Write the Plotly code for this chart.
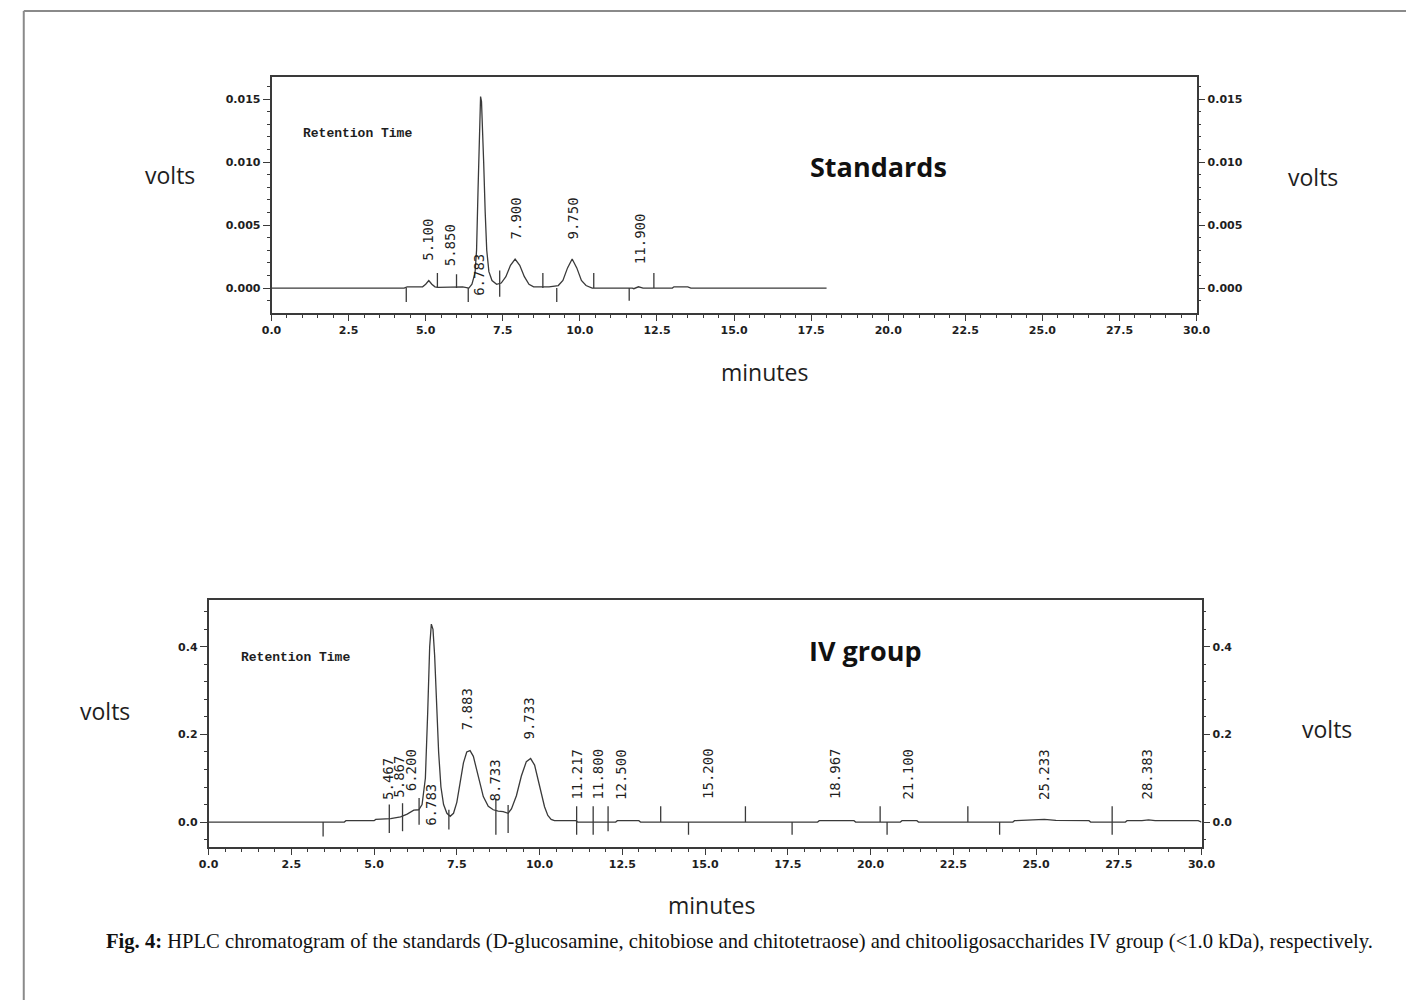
import plotly.graph_objects as go

# ---------------- data: Standards chromatogram ----------------
std_time = [0.0, 4.3, 4.4, 4.9, 5.0, 5.1, 5.2, 5.3, 5.4, 6.0, 6.2, 6.4, 6.5, 6.6, 6.65, 6.7, 6.75,
            6.78, 6.81, 6.83, 6.88, 6.93, 6.98, 7.05, 7.15, 7.3, 7.45, 7.6, 7.75, 7.9, 8.05, 8.2,
            8.35, 8.5, 9.0, 9.3, 9.45, 9.6, 9.75, 9.9, 10.05, 10.2, 10.4, 11.7, 11.75, 11.9, 12.05,
            13.0, 13.05, 13.5, 13.6, 18.0]
std_volts = [0.0, 0.0, 0.0001, 0.0001, 0.0003, 0.0006, 0.0003, 0.0001, 0.00005, 0.0001, 0.0001, 0.0,
             0.0003, 0.0012, 0.003, 0.008, 0.0135, 0.0152, 0.0148, 0.0136, 0.010, 0.006, 0.003,
             0.0013, 0.0006, 0.0003, 0.0004, 0.0009, 0.0018, 0.0023, 0.0018, 0.0009, 0.0003, 0.0001,
             0.0001, 0.0002, 0.0006, 0.0016, 0.0023, 0.0016, 0.0006, 0.0002, 0.0, 0.0, -0.00005,
             0.0001, 0.0, 0.0, 0.0001, 0.0001, 0.0, 0.0]
std_mark_time = [4.37, 5.38, 6.0, 6.38, 7.4, 8.8, 9.25, 10.45, 11.6, 12.4]
std_mark_low = [-0.0011, 0.0, 0.0, -0.0011, -0.0007, 0.0, -0.0011, 0.0, -0.001, 0.0]
std_mark_high = [0.0, 0.0012, 0.0011, 0.0, 0.0014, 0.0012, 0.0, 0.0012, 0.0, 0.0012]
std_labels = ["5.100", "5.850", "6.783", "7.900", "9.750", "11.900"]
std_label_time = [5.07, 5.80, 6.72, 7.93, 9.78, 11.95]
std_label_base = [0.002, 0.0016, -0.0008, 0.0037, 0.0037, 0.0017]

# ---------------- data: IV group chromatogram ----------------
iv_time = [0.0, 4.1, 4.15, 5.0, 5.05, 5.5, 5.8, 6.0, 6.2, 6.35, 6.45, 6.55, 6.62, 6.68, 6.73, 6.78,
           6.83, 6.88, 6.95, 7.02, 7.1, 7.2, 7.3, 7.4, 7.5, 7.6, 7.7, 7.8, 7.9, 8.0, 8.1, 8.2, 8.3,
           8.45, 8.6, 8.75, 8.9, 9.05, 9.15, 9.3, 9.45, 9.6, 9.73, 9.85, 9.95, 10.05, 10.15, 10.25,
           10.35, 10.45, 11.1, 11.15, 12.3, 12.35, 13.0, 13.05, 18.4, 18.45, 19.5, 19.55, 20.9,
           20.95, 21.4, 21.45, 24.3, 24.35, 24.9, 25.25, 25.6, 26.6, 26.65, 27.7, 27.75, 28.2,
           28.4, 28.6, 29.9, 30.0]
iv_volts = [0.0, 0.0, 0.003, 0.003, 0.006, 0.008, 0.012, 0.018, 0.027, 0.028, 0.04, 0.1, 0.25, 0.40,
            0.452, 0.44, 0.38, 0.28, 0.16, 0.08, 0.04, 0.02, 0.013, 0.02, 0.045, 0.09, 0.135, 0.16,
            0.163, 0.15, 0.12, 0.085, 0.058, 0.036, 0.028, 0.025, 0.024, 0.02, 0.03, 0.06, 0.105,
            0.138, 0.145, 0.13, 0.1, 0.065, 0.035, 0.015, 0.006, 0.003, 0.003, 0.0, 0.0, 0.003,
            0.003, 0.0, 0.0, 0.003, 0.003, 0.0, 0.0, 0.003, 0.003, 0.0, 0.0, 0.003, 0.004, 0.006,
            0.004, 0.003, 0.0, 0.0, 0.003, 0.003, 0.005, 0.003, 0.003, 0.0]
iv_mark_time = [3.46, 5.46, 5.86, 6.36, 7.26, 8.68, 9.05, 11.12, 11.62, 12.07, 13.66, 14.5, 16.22,
                17.63, 20.29, 20.5, 22.94, 23.9, 27.3]
iv_mark_low = [-0.033, -0.025, -0.021, -0.006, -0.017, -0.029, -0.025, -0.029, -0.029, -0.021, 0.0,
               -0.029, 0.0, -0.029, 0.0, -0.029, 0.0, -0.029, -0.029]
iv_mark_high = [0.0, 0.04, 0.043, 0.055, 0.028, 0.054, 0.039, 0.036, 0.036, 0.036, 0.036, 0.0,
                0.036, 0.0, 0.036, 0.0, 0.036, 0.0, 0.036]
iv_labels = ["5.467", "5.867", "6.200", "6.783", "7.883", "8.733", "9.733", "11.217", "11.800",
             "12.500", "15.200", "18.967", "21.100", "25.233", "28.383"]
iv_label_time = [5.44, 5.77, 6.12, 6.71, 7.79, 8.66, 9.67, 11.12, 11.75, 12.46, 15.09, 18.93,
                 21.12, 25.24, 28.34]
iv_label_base = [0.045, 0.05, 0.066, -0.014, 0.206, 0.043, 0.183, 0.047, 0.047, 0.047, 0.047,
                 0.047, 0.047, 0.047, 0.047]

x_ticks = [0.0, 2.5, 5.0, 7.5, 10.0, 12.5, 15.0, 17.5, 20.0, 22.5, 25.0, 27.5, 30.0]

# ---------------- figure ----------------
W, H = 1420, 1000
LINE = "#3a3a3a"
TXT = "#1e1e1e"


def px(x):
    return x / W


def py(y):
    return 1 - y / H


def marks(times, lows, highs):
    xs, ys = [], []
    for t, lo, hi in zip(times, lows, highs):
        xs += [t, t, None]
        ys += [lo, hi, None]
    return xs, ys


fig = go.Figure()
fig.add_trace(go.Scatter(x=std_time, y=std_volts, mode="lines", xaxis="x", yaxis="y",
                         line=dict(color=LINE, width=1.3), showlegend=False, hoverinfo="skip"))
mx, my = marks(std_mark_time, std_mark_low, std_mark_high)
fig.add_trace(go.Scatter(x=mx, y=my, mode="lines", xaxis="x", yaxis="y",
                         line=dict(color=LINE, width=1.3), showlegend=False, hoverinfo="skip"))
# same data on the right-hand (mirror) axis, invisible, so that the right axis is drawn
fig.add_trace(go.Scatter(x=std_time, y=std_volts, mode="lines", xaxis="x", yaxis="y3",
                         opacity=0, line=dict(width=0), showlegend=False, hoverinfo="skip"))
fig.add_trace(go.Scatter(x=iv_time, y=iv_volts, mode="lines", xaxis="x2", yaxis="y2",
                         line=dict(color=LINE, width=1.3), showlegend=False, hoverinfo="skip"))
mx, my = marks(iv_mark_time, iv_mark_low, iv_mark_high)
fig.add_trace(go.Scatter(x=mx, y=my, mode="lines", xaxis="x2", yaxis="y2",
                         line=dict(color=LINE, width=1.3), showlegend=False, hoverinfo="skip"))
fig.add_trace(go.Scatter(x=iv_time, y=iv_volts, mode="lines", xaxis="x2", yaxis="y4",
                         opacity=0, line=dict(width=0), showlegend=False, hoverinfo="skip"))

tickfont = dict(family="DejaVu Sans", size=11, color=TXT, weight="bold")

top_y = [-0.00198, 0.01675]
bot_y = [-0.057, 0.507]
top_dom_x = [px(266), px(1207)]
top_dom_y = [py(313), py(77)]
bot_dom_x = [px(202), px(1212)]
bot_dom_y = [py(847), py(600)]

xcommon = dict(range=[0, 30], tickvals=x_ticks, tickformat=".1f", showline=True, linecolor=LINE,
               linewidth=1.6, mirror=True, ticks="outside", ticklen=6, tickcolor=LINE,
               tickfont=tickfont, showgrid=False, zeroline=False,
               minor=dict(dtick=0.5, ticks="outside", ticklen=3, tickcolor=LINE))


def yax(rng, dt, mdt, fmt, **kw):
    d = dict(range=rng, dtick=dt, tick0=0, tickformat=fmt, showline=True, linecolor=LINE,
             linewidth=1.6, ticks="outside", ticklen=7, tickcolor=LINE, tickfont=tickfont,
             showgrid=False, zeroline=False,
             minor=dict(dtick=mdt, ticks="outside", ticklen=3, tickcolor=LINE))
    d.update(kw)
    return d


fig.update_layout(
    width=W, height=H, autosize=False, margin=dict(l=0, r=0, t=0, b=0),
    paper_bgcolor="white", plot_bgcolor="white", showlegend=False,
    xaxis=dict(domain=top_dom_x, anchor="y", **xcommon),
    yaxis=yax(top_y, 0.005, 0.001, ".3f", domain=top_dom_y, anchor="x"),
    yaxis3=yax(top_y, 0.005, 0.001, ".3f", overlaying="y", side="right", anchor="x"),
    xaxis2=dict(domain=bot_dom_x, anchor="y2", **xcommon),
    yaxis2=yax(bot_y, 0.2, 0.04, ".1f", domain=bot_dom_y, anchor="x2"),
    yaxis4=yax(bot_y, 0.2, 0.04, ".1f", overlaying="y2", side="right", anchor="x2"),
)

ann = []
labfont = dict(family="DejaVu Sans Mono", size=14, color=TXT)
for txt, t, b in zip(std_labels, std_label_time, std_label_base):
    ann.append(dict(x=t, y=b, xref="x", yref="y", text=txt, textangle=-90, showarrow=False,
                    xanchor="center", yanchor="bottom", font=labfont))
for txt, t, b in zip(iv_labels, iv_label_time, iv_label_base):
    ann.append(dict(x=t, y=b, xref="x2", yref="y2", text=txt, textangle=-90, showarrow=False,
                    xanchor="center", yanchor="bottom", font=labfont))

rt_font = dict(family="Liberation Mono", size=13, color=TXT, weight="bold")
ann.append(dict(x=px(296), y=py(133), xref="paper", yref="paper", text="Retention Time",
                showarrow=False, xanchor="left", yanchor="middle", font=rt_font))
ann.append(dict(x=px(233), y=py(657), xref="paper", yref="paper", text="Retention Time",
                showarrow=False, xanchor="left", yanchor="middle", font=rt_font))

big = dict(family="Open Sans", size=23, color=TXT)
bold = dict(family="Open Sans", size=27, color="#111", weight="bold")
for txt, x, y, f in [("volts", 163, 175, big), ("volts", 1325, 177, big),
                     ("minutes", 767, 372, big), ("Standards", 883, 166, bold),
                     ("volts", 97, 711, big), ("volts", 1340, 729, big),
                     ("minutes", 714, 905, big), ("IV group", 870, 650, bold)]:
    ann.append(dict(x=px(x), y=py(y), xref="paper", yref="paper", text=txt, showarrow=False,
                    xanchor="center", yanchor="middle", font=f))

ann.append(dict(x=px(96), y=py(941), xref="paper", yref="paper",
                text="<b>Fig. 4:</b> HPLC chromatogram of the standards (D-glucosamine, chitobiose and "
                     "chitotetraose) and chitooligosaccharides IV group (&lt;1.0 kDa), respectively.",
                showarrow=False, xanchor="left", yanchor="middle",
                font=dict(family="Liberation Serif", size=20.6, color="#111")))

fig.update_layout(annotations=ann)

fig.add_shape(type="line", xref="paper", yref="paper", x0=px(14), x1=px(14), y0=0, y1=py(11),
              line=dict(color="#8a8a8a", width=2))
fig.add_shape(type="line", xref="paper", yref="paper", x0=px(14), x1=1, y0=py(11), y1=py(11),
              line=dict(color="#8a8a8a", width=2))

fig.write_html("out.html")
